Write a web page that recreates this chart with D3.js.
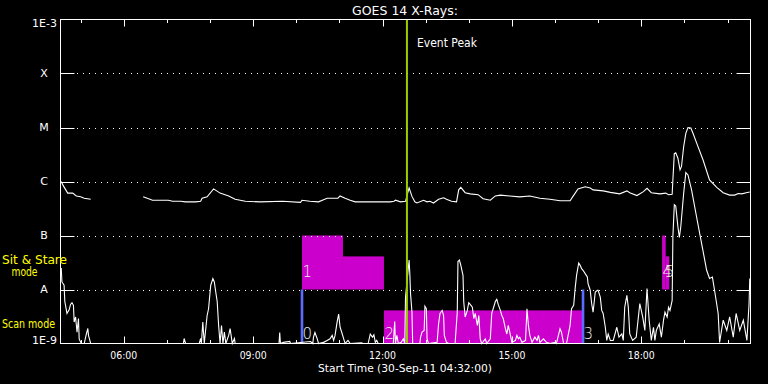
<!DOCTYPE html>
<html>
<head>
<meta charset="utf-8">
<script src="https://cdn.jsdelivr.net/npm/d3@7"></script>
<style>
html, body { margin: 0; padding: 0; background: #000; }
svg { display: block; }
text { font-family: "DejaVu Sans", sans-serif; }
</style>
</head>
<body>
<div id="chart"></div>
<script>
// minutes after the start time (30-Sep-11 04:32:00 UT), flux in W/m^2
const startTime = Date.UTC(2011, 8, 30, 4, 32);
const spanMinutes = 960;

// GOES 1-8 A channel (null = data gap)
const longChannel = [
    [1, 1.0e-6], [4, 8.3e-7], [10, 6.1e-7], [17, 6.1e-7], [22, 5.4e-7], [28, 5.2e-7], [33, 4.9e-7], [42, 4.7e-7],
    [78, null],
    [115, 5.2e-7], [128, 4.5e-7], [150, 4.5e-7], [156, 4.3e-7], [167, 4.3e-7], [174, 4.2e-7], [188, 4.2e-7],
    [195, 4.3e-7], [197, 4.9e-7], [204, 5.2e-7], [213, 7.3e-7], [222, 6.1e-7], [234, 5.4e-7], [243, 4.7e-7],
    [257, 4.3e-7], [278, 4.2e-7], [309, 4.3e-7], [334, 4.1e-7], [336, 4.5e-7], [347, 4.3e-7], [359, 4.2e-7],
    [366, 4.6e-7], [371, 4.9e-7], [386, 4.9e-7], [389, 5.4e-7], [396, 4.9e-7], [403, 4.5e-7], [410, 4.2e-7],
    [459, 4.2e-7], [464, 4.3e-7], [466, 4.5e-7], [473, 4.2e-7], [480, 4.3e-7], [482, 5.4e-7], [485, 7.6e-7],
    [489, 5.3e-7], [493, 4.2e-7], [496, 4.0e-7], [505, 4.5e-7], [510, 4.2e-7], [514, 4.3e-7], [519, 4.0e-7],
    [526, 4.7e-7], [533, 5.0e-7], [537, 4.7e-7], [544, 4.3e-7], [551, 4.2e-7], [554, 7.0e-7], [557, 7.8e-7],
    [563, 6.2e-7], [570, 5.9e-7], [581, 5.7e-7], [588, 4.8e-7], [598, 4.5e-7], [605, 5.4e-7], [612, 5.6e-7],
    [625, 5.4e-7], [639, 5.2e-7], [653, 5.4e-7], [667, 4.9e-7], [681, 4.7e-7], [695, 4.4e-7], [709, 4.4e-7],
    [713, 5.3e-7], [720, 7.3e-7], [730, 8.0e-7], [737, 7.6e-7], [741, 7.0e-7], [755, 6.7e-7], [765, 6.3e-7],
    [778, 5.9e-7], [788, 6.7e-7], [792, 6.2e-7], [802, 5.5e-7], [811, 6.5e-7], [816, 7.5e-7], [822, 6.2e-7],
    [834, 5.9e-7], [842, 6.1e-7], [846, 5.7e-7], [851, 5.8e-7], [852, 1.07e-6], [854, 3.3e-6], [856, 3.4e-6],
    [859, 2.7e-6], [862, 1.64e-6], [864, 1.9e-6], [867, 4.4e-6], [870, 7.8e-6], [873, 1.0e-5], [877, 9.8e-6],
    [880, 7.8e-6], [885, 5.2e-6], [894, 2.5e-6], [903, 1.07e-6], [913, 7.8e-7], [922, 6.2e-7], [931, 5.6e-7],
    [938, 5.6e-7], [943, 6.0e-7], [948, 5.9e-7], [954, 6.2e-7], [959, 6.4e-7]
];

// GOES 0.5-4 A channel (values under 1E-9 sit on the floor)
const shortChannel = [
    [1, 2.5e-8], [2, 1.38e-8], [5, 1.2e-8], [6, 6.0e-9], [9, 3.6e-9], [12, 4.2e-9], [14, 5.3e-9], [16, 5.7e-9],
    [18, 5.1e-9], [19, 2.5e-9], [21, 3.1e-9], [23, 1.62e-9], [25, 2.9e-9], [26, 1.2e-9], [29, 8e-10], [33, 8e-10],
    [36, 1.5e-9], [38, 1.9e-9], [39, 1.4e-9], [42, 8e-10], [171, 8e-10], [172, 1.24e-9], [174, 8e-10],
    [193, 8e-10], [195, 1.24e-9], [196, 8e-10], [198, 2.5e-9], [200, 8e-10], [204, 3.3e-9], [206, 4.4e-9],
    [209, 1.2e-8], [212, 1.6e-8], [214, 1.38e-8], [216, 9.0e-9], [218, 6.0e-9], [220, 2.16e-9], [222, 8e-10],
    [224, 2.16e-9], [226, 8e-10], [228, 1.62e-9], [230, 8e-10], [234, 1.41e-9], [236, 1.88e-9], [239, 8e-10],
    [242, 1.24e-9], [243, 8e-10], [304, 8e-10], [305, 1.6e-9], [306, 8e-10], [310, 1.05e-9], [319, 1.09e-9],
    [320, 8e-10], [348, 1.09e-9], [351, 8e-10], [352, 1.31e-9], [354, 1.6e-9], [357, 1.24e-9], [359, 8e-10],
    [366, 1.05e-9], [371, 1.14e-9], [375, 1.22e-9], [378, 1.41e-9], [380, 1.14e-9], [382, 1.41e-9],
    [385, 2.56e-9], [387, 3.5e-9], [389, 2.0e-9], [392, 1.5e-9], [394, 1.22e-9], [396, 8e-10], [400, 1.14e-9],
    [403, 8e-10], [419, 1.03e-9], [421, 8e-10], [428, 8e-10], [431, 1.5e-9], [434, 1.31e-9], [436, 1.45e-9],
    [438, 1.05e-9], [440, 1.14e-9], [442, 8e-10], [463, 8e-10], [465, 2.56e-9], [466, 8e-10], [468, 1.41e-9],
    [470, 8e-10], [474, 1.05e-9], [477, 1.22e-9], [479, 8e-10], [480, 7.2e-9], [485, 3.5e-8], [486, 1.97e-8],
    [487, 8.4e-9], [489, 3.8e-9], [490, 8e-10], [500, 8e-10], [501, 1.31e-9], [503, 1.62e-9], [506, 1.75e-9],
    [507, 4.9e-9], [509, 4.4e-9], [510, 1.22e-9], [512, 8e-10], [524, 1.05e-9], [526, 2.3e-9], [528, 3.6e-9],
    [531, 4.1e-9], [533, 3.3e-9], [534, 1.41e-9], [537, 1.05e-9], [540, 8e-10], [549, 8e-10], [552, 3.8e-9],
    [553, 3.3e-8], [555, 3.5e-8], [557, 2.8e-8], [560, 1.83e-8], [561, 6.0e-9], [563, 3.1e-9], [566, 4.1e-9],
    [568, 5.7e-9], [570, 5.3e-9], [573, 4.7e-9], [575, 2.9e-9], [577, 3.6e-9], [580, 2.16e-9], [582, 3.3e-9],
    [584, 1.22e-9], [586, 8e-10], [591, 1.22e-9], [593, 8e-10], [598, 1.22e-9], [600, 3.6e-9], [602, 4.4e-9],
    [605, 6.0e-9], [607, 6.6e-9], [609, 5.3e-9], [612, 4.1e-9], [614, 3.3e-9], [616, 2.9e-9], [619, 1.88e-9],
    [621, 1.5e-9], [623, 2.16e-9], [626, 1.41e-9], [628, 1.05e-9], [633, 1.14e-9], [635, 1.41e-9],
    [637, 1.22e-9], [639, 1.31e-9], [642, 1.05e-9], [647, 1.14e-9], [649, 4.4e-9], [651, 2.16e-9],
    [653, 1.41e-9], [656, 1.05e-9], [660, 1.31e-9], [663, 1.14e-9], [665, 1.41e-9], [667, 1.05e-9],
    [672, 1.22e-9], [676, 1.05e-9], [681, 8e-10], [688, 1.05e-9], [690, 8e-10], [695, 1.88e-9], [697, 1.62e-9],
    [700, 8e-10], [704, 8e-10], [709, 2.16e-9], [711, 4.4e-9], [714, 5.1e-9], [716, 1.04e-8], [718, 1.83e-8],
    [721, 3.1e-8], [723, 2.8e-8], [725, 2.44e-8], [727, 2.27e-8], [730, 1.97e-8], [733, 1.7e-8], [734, 1.28e-8],
    [737, 9.7e-9], [739, 5.5e-9], [741, 3.8e-9], [744, 9.0e-9], [747, 9.7e-9], [748, 9.7e-9], [751, 7.2e-9],
    [753, 4.1e-9], [755, 3.6e-9], [758, 2.0e-9], [760, 1.14e-9], [762, 1.5e-9], [765, 1.14e-9], [769, 1.14e-9],
    [774, 2.0e-9], [777, 1.31e-9], [781, 1.5e-9], [783, 1.14e-9], [785, 4.7e-9], [788, 7.8e-9], [790, 4.7e-9],
    [792, 1.5e-9], [796, 1.14e-9], [801, 1.31e-9], [804, 3.1e-9], [806, 5.5e-9], [810, 3.1e-9], [813, 1.75e-9],
    [816, 1.04e-8], [819, 2.7e-9], [822, 1.14e-9], [825, 2.0e-9], [827, 1.14e-9], [829, 1.75e-9], [833, 2.3e-9],
    [836, 1.31e-9], [839, 2.7e-9], [841, 3.8e-9], [844, 3.1e-9], [846, 4.7e-9], [848, 4.1e-9], [851, 6.3e-9],
    [852, 9.4e-8], [854, 3.7e-7], [856, 3.5e-7], [859, 1.45e-7], [861, 9.2e-8], [863, 1.45e-7], [867, 6.0e-7],
    [870, 1.46e-6], [873, 1.32e-6], [878, 7.0e-7], [885, 2.2e-7], [892, 7.1e-8], [899, 2.27e-8], [903, 1.6e-8],
    [907, 1.7e-8], [910, 9.7e-9], [915, 3.6e-9], [917, 1.05e-9], [922, 2.7e-9], [927, 1.75e-9], [931, 3.1e-9],
    [936, 1.31e-9], [940, 3.6e-9], [945, 1.75e-9], [950, 2.7e-9], [955, 1.14e-9], [958, 5.5e-9], [959, 1.6e-8]
];

// y axis
const yTickValues = [1e-9, 1e-8, 1e-7, 1e-6, 1e-5, 1e-4, 1e-3];
const yTickNames = ["1E-9", "A", "B", "C", "M", "X", "1E-3"];

// instrument observing blocks
const stareStart = [336, 393, 837, 842];
const stareEnd = [393, 450, 842, 847];
const stareTop = [1e-7, 4.1e-8, 1e-7, 4.1e-8];
const scanStart = [450];
const scanEnd = [726];
const scanTop = [4.1e-9];
const markerTimes = [336, 727];
const obsNames = ["0", "1", "2", "3", "4", "5"];
const obsTimes = [336, 336, 450, 727, 837, 840];
const obsModes = ["scan", "stare", "scan", "scan", "stare", "stare"];
const eventPeak = 482;

const width = 768, height = 384;
const plotLeft = 60.5, plotRight = 750.5, plotTop = 19.5, plotBottom = 343.5;

function toDate(m) {
    return new Date(startTime + m * 60000);
}

const x = d3.scaleUtc()
    .domain([toDate(0), toDate(spanMinutes)])
    .range([plotLeft, plotRight]);

const y = d3.scaleLog()
    .domain([1e-9, 1e-3])
    .range([plotBottom, plotTop])
    .clamp(true);

const svg = d3.select("#chart").append("svg")
    .attr("width", width)
    .attr("height", height)
    .style("background", "#000");

// magenta sit & stare / scan blocks
const blocks = stareStart.map(function (s, i) {
    return { s: s, e: stareEnd[i], hi: stareTop[i], lo: 1e-8 };
}).concat(scanStart.map(function (s, i) {
    return { s: s, e: scanEnd[i], hi: scanTop[i], lo: 1e-9 };
}));

svg.selectAll(".block")
    .data(blocks)
    .enter()
    .append("rect")
    .attr("class", "block")
    .attr("x", d => x(toDate(d.s)))
    .attr("y", d => y(d.hi))
    .attr("width", d => x(toDate(d.e)) - x(toDate(d.s)))
    .attr("height", d => y(d.lo) - y(d.hi))
    .attr("fill", "#cc00cc");

// blue markers
svg.selectAll(".marker")
    .data(markerTimes)
    .enter()
    .append("line")
    .attr("class", "marker")
    .attr("x1", d => x(toDate(d)))
    .attr("x2", d => x(toDate(d)))
    .attr("y1", y(1e-8))
    .attr("y2", plotBottom)
    .attr("stroke", "#5c6cff")
    .attr("stroke-width", 2.6);

// dotted grid
const gridVals = yTickValues.slice(1, -1);
svg.selectAll(".grid")
    .data(gridVals)
    .enter()
    .append("line")
    .attr("x1", plotLeft + 16.5)
    .attr("x2", plotRight - 15)
    .attr("y1", d => Math.round(y(d)) + 0.5)
    .attr("y2", d => Math.round(y(d)) + 0.5)
    .attr("stroke", "#fff")
    .attr("stroke-dasharray", "1,5");

// flux curves
const line = d3.line()
    .defined(d => d[1] != null)
    .x(d => x(toDate(d[0])))
    .y(d => y(d[1]));

[longChannel, shortChannel].forEach(function (series) {
    svg.append("path")
        .datum(series)
        .attr("d", line)
        .attr("fill", "none")
        .attr("stroke", "#fff")
        .attr("stroke-width", 1.1);
});

// event peak
svg.append("line")
    .attr("x1", x(toDate(eventPeak)))
    .attr("x2", x(toDate(eventPeak)))
    .attr("y1", plotTop)
    .attr("y2", plotBottom)
    .attr("stroke", "#9acd00")
    .attr("stroke-width", 2);

svg.append("text")
    .attr("x", x(toDate(eventPeak)) + 10)
    .attr("y", 43)
    .attr("dy", "0.35em")
    .attr("fill", "#fff")
    .attr("font-size", "11.5px")
    .attr("textLength", 60)
    .attr("lengthAdjust", "spacingAndGlyphs")
    .text("Event Peak");

// observation numbers
svg.selectAll(".obs")
    .data(obsNames)
    .enter()
    .append("text")
    .attr("class", "obs")
    .attr("x", (d, i) => x(toDate(obsTimes[i])) + 0.5)
    .attr("y", (d, i) => obsModes[i] === "scan" ? 333.5 : 272)
    .attr("dy", "0.36em")
    .attr("fill", "#f0f0f0")
    .attr("font-size", "15px")
    .attr("font-weight", 300)
    .text(d => d);

// frame
svg.append("rect")
    .attr("x", plotLeft)
    .attr("y", plotTop)
    .attr("width", plotRight - plotLeft)
    .attr("height", plotBottom - plotTop)
    .attr("fill", "none")
    .attr("stroke", "#fff");

// y ticks, both sides
svg.selectAll(".ytick")
    .data(gridVals)
    .enter()
    .append("path")
    .attr("d", function (d) {
        const yy = Math.round(y(d)) + 0.5;
        return "M" + plotLeft + "," + yy + "H" + (plotLeft + 14) + "M" + (plotRight - 14) + "," + yy + "H" + plotRight;
    })
    .attr("stroke", "#fff");

svg.selectAll(".ylabel")
    .data(yTickValues)
    .enter()
    .append("text")
    .attr("x", (d, i) => (i === 0 || i === yTickValues.length - 1) ? 57 : 44)
    .attr("y", function (d, i) {
        if (i === 0) return plotBottom - 3;
        if (i === yTickValues.length - 1) return plotTop + 4;
        return y(d);
    })
    .attr("dy", "0.36em")
    .attr("text-anchor", (d, i) => (i === 0 || i === yTickValues.length - 1) ? "end" : "middle")
    .attr("fill", "#fff")
    .attr("font-size", "11px")
    .text((d, i) => yTickNames[i]);

// x ticks, top and bottom
const hourTicks = x.ticks(d3.utcHour.every(1));
svg.selectAll(".xtick")
    .data(hourTicks)
    .enter()
    .append("path")
    .attr("d", function (d) {
        const xx = Math.round(x(d)) + 0.5;
        const len = d.getUTCHours() % 3 === 0 ? 7 : 3.5;
        return "M" + xx + "," + plotTop + "V" + (plotTop + len) + "M" + xx + "," + plotBottom + "V" + (plotBottom - len);
    })
    .attr("stroke", "#fff");

const fmt = d3.utcFormat("%H:%M");
svg.selectAll(".xlabel")
    .data(x.ticks(d3.utcHour.every(3)))
    .enter()
    .append("text")
    .attr("x", d => x(d) - 13.5)
    .attr("y", 355.5)
    .attr("dy", "0.36em")
    .attr("fill", "#fff")
    .attr("font-size", "11px")
    .attr("textLength", 27)
    .attr("lengthAdjust", "spacingAndGlyphs")
    .text(d => fmt(d));

svg.append("text")
    .attr("x", 318)
    .attr("y", 368.5)
    .attr("dy", "0.36em")
    .attr("fill", "#fff")
    .attr("font-size", "11px")
    .attr("textLength", 174)
    .attr("lengthAdjust", "spacingAndGlyphs")
    .text("Start Time (30-Sep-11 04:32:00)");

svg.append("text")
    .attr("x", 405)
    .attr("y", 10)
    .attr("dy", "0.36em")
    .attr("text-anchor", "middle")
    .attr("fill", "#fff")
    .attr("font-size", "12.5px")
    .text("GOES 14 X-Rays:");

// mode labels: text, x, y, width
const modeLabels = [["Sit & Stare", 2, 259.5, 65], ["mode", 11.5, 272, 26], ["Scan mode", 2, 324, 53]];
svg.selectAll(".mode")
    .data(modeLabels)
    .enter()
    .append("text")
    .attr("x", d => d[1])
    .attr("y", d => d[2])
    .attr("dy", "0.36em")
    .attr("fill", "#ffff00")
    .attr("font-size", "12px")
    .attr("textLength", d => d[3])
    .attr("lengthAdjust", "spacingAndGlyphs")
    .text(d => d[0]);
</script>
</body>
</html>
